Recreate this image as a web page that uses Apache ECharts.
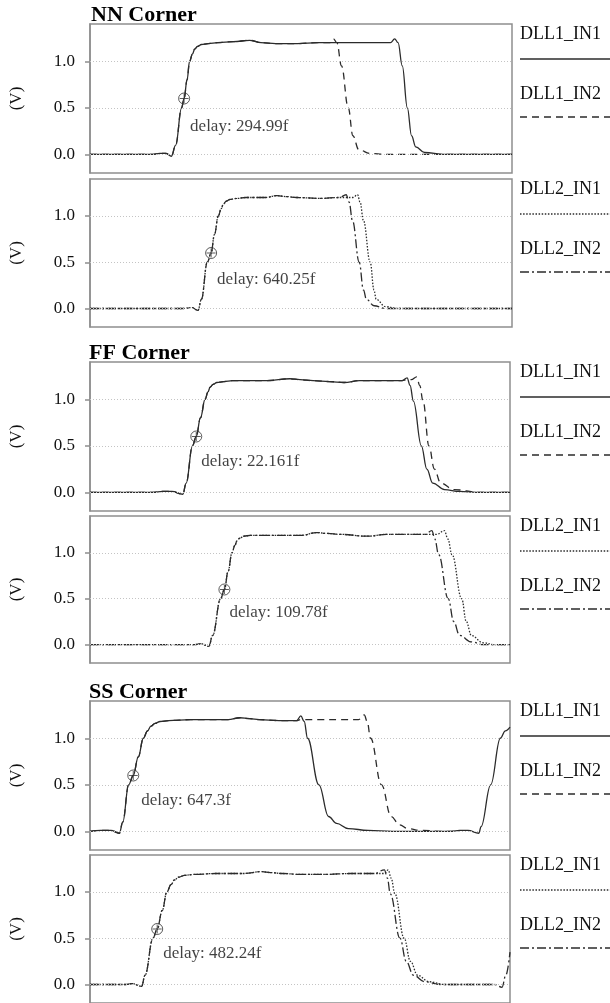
<!DOCTYPE html>
<html>
<head>
<meta charset="utf-8">
<script src="https://cdn.jsdelivr.net/npm/echarts@6/dist/echarts.min.js"></script>
<style>
  html, body { margin: 0; padding: 0; background: #fff; }
  #chart { width: 610px; height: 1003px; }
</style>
</head>
<body>
<div id="chart"></div>
<script>
// 轴刻度 (V)
var yTicks = [0, 0.5, 1.0];
var cornerTitles = ["NN Corner", "FF Corner", "SS Corner"];
var dll1Names = ["DLL1_IN1", "DLL1_IN2"];
var dll2Names = ["DLL2_IN1", "DLL2_IN2"];
var delayLabels = ["294.99f", "640.25f", "22.161f", "109.78f", "647.3f", "482.24f"];

// x: 0-100 across the plot window, y: volts
var nnDll1In1 = [[0,0],[15,0],[16.5,0.01],[18,0.01],[19.3,-0.02],[20.3,0.1],[21.7,0.5],[22.3,0.6],[23,0.8],[23.6,1.0],[24.3,1.08],[24.8,1.13],[25.5,1.16],[26.4,1.18],[28,1.19],[30.3,1.2],[34,1.21],[37.8,1.225],[40.5,1.2],[44,1.19],[49.2,1.19],[54,1.2],[60,1.2],[66,1.2],[71.2,1.2],[72.2,1.24],[73,1.2],[74,0.95],[75.2,0.5],[76.2,0.2],[77.2,0.08],[79.3,0.02],[83.9,0],[100,0]];
var nnDll1In2 = [[0,0],[15,0],[16.5,0.01],[18,0.01],[19.3,-0.02],[20.3,0.1],[21.7,0.5],[22.3,0.6],[23,0.8],[23.6,1.0],[24.3,1.08],[24.8,1.13],[25.5,1.16],[26.4,1.18],[28,1.19],[30.3,1.2],[34,1.21],[37.8,1.225],[40.5,1.2],[44,1.19],[49.2,1.19],[54,1.2],[56.8,1.2],[57.7,1.24],[58.5,1.2],[59.6,0.95],[61.2,0.5],[62.3,0.2],[63.7,0.05],[66.4,0.01],[70,0],[100,0]];
var nnDll2In1 = [[0,0],[22,0],[24.2,0.01],[25.6,-0.02],[26.4,0.1],[27.8,0.5],[28.7,0.6],[29.5,0.8],[30.4,1.0],[31.1,1.08],[31.6,1.13],[32.3,1.16],[33.2,1.18],[34.8,1.19],[37,1.2],[41.6,1.2],[44.3,1.22],[46.5,1.21],[48.9,1.2],[54.4,1.19],[59.1,1.2],[60.7,1.2],[62.3,1.2],[63.4,1.23],[64,1.15],[64.8,0.95],[66.4,0.5],[67.3,0.2],[67.8,0.1],[70,0.02],[72.9,0],[100,0]];
var nnDll2In2 = [[0,0],[22,0],[24.2,0.01],[25.6,-0.02],[26.4,0.1],[27.8,0.5],[28.7,0.6],[29.5,0.8],[30.4,1.0],[31.1,1.08],[31.6,1.13],[32.3,1.16],[33.2,1.18],[34.8,1.19],[37,1.2],[41.6,1.2],[44.3,1.22],[46.5,1.21],[48.9,1.2],[54.4,1.19],[59.1,1.2],[60.7,1.23],[61.4,1.15],[62.2,0.95],[63.8,0.5],[64.8,0.2],[65.5,0.1],[67.3,0.03],[70.1,0],[100,0]];

var ffDll1In1 = [[0,0],[15,0],[17.3,0.01],[19.5,0.01],[22.1,-0.02],[22.9,0.1],[24.4,0.5],[25.3,0.6],[26.3,0.8],[27.4,1.0],[28.1,1.08],[28.6,1.13],[29.3,1.16],[30.2,1.18],[31.8,1.19],[34,1.2],[42.1,1.2],[47.6,1.22],[50,1.21],[53.1,1.2],[57,1.19],[60.5,1.18],[64.2,1.2],[70,1.2],[74.3,1.2],[75.5,1.23],[76.2,1.15],[77,0.98],[78.9,0.5],[80.2,0.25],[81.6,0.1],[84.4,0.03],[88,0.01],[92,0],[100,0]];
var ffDll1In2 = [[0,0],[15,0],[17.3,0.01],[19.5,0.01],[22.1,-0.02],[22.9,0.1],[24.4,0.5],[25.3,0.6],[26.3,0.8],[27.4,1.0],[28.1,1.08],[28.6,1.13],[29.3,1.16],[30.2,1.18],[31.8,1.19],[34,1.2],[42.1,1.2],[47.6,1.22],[50,1.21],[53.1,1.2],[57,1.19],[60.5,1.18],[64.2,1.2],[70,1.2],[74.3,1.2],[75.5,1.21],[76.5,1.21],[77.8,1.24],[78.5,1.15],[79.3,0.98],[80.7,0.5],[82,0.25],[83.5,0.1],[86.6,0.03],[92.7,0],[100,0]];
var ffDll2In1 = [[0,0],[25,0],[26.5,0.01],[28.3,-0.02],[29.2,0.1],[31.1,0.5],[32,0.6],[32.9,0.8],[33.8,1.0],[34.5,1.08],[35,1.13],[35.7,1.16],[36.6,1.18],[38.2,1.19],[41.2,1.19],[50.4,1.19],[54,1.22],[56.5,1.21],[59.6,1.2],[66,1.18],[70.6,1.2],[79.8,1.2],[81.4,1.2],[82.5,1.2],[84.4,1.24],[85.2,1.15],[86.2,0.98],[88.5,0.5],[89.6,0.25],[90.8,0.1],[93.6,0.02],[96.3,0],[100,0]];
var ffDll2In2 = [[0,0],[25,0],[26.5,0.01],[28.3,-0.02],[29.2,0.1],[31.1,0.5],[32,0.6],[32.9,0.8],[33.8,1.0],[34.5,1.08],[35,1.13],[35.7,1.16],[36.6,1.18],[38.2,1.19],[41.2,1.19],[50.4,1.19],[54,1.22],[56.5,1.21],[59.6,1.2],[66,1.18],[70.6,1.2],[79.8,1.2],[81.4,1.24],[82.1,1.15],[83,0.98],[85.3,0.5],[86.6,0.25],[88,0.1],[90.8,0.03],[93.6,0],[100,0]];

var ssDll1In1 = [[0,0],[2.5,0.01],[5,0.01],[7.0,-0.02],[7.8,0.1],[9.2,0.5],[10.3,0.6],[11.5,0.8],[12.7,1.0],[13.7,1.08],[14.5,1.13],[15.5,1.16],[16.7,1.18],[18.7,1.19],[24,1.2],[32.9,1.2],[35.7,1.22],[38,1.21],[40.3,1.2],[45,1.19],[49.2,1.19],[50.2,1.24],[51,1.18],[51.8,1.0],[54.5,0.5],[56.8,0.16],[58.7,0.086],[61.5,0.03],[66.2,0.01],[72,0],[86,0],[88,0.01],[90,0.01],[92.6,-0.02],[93.1,0.05],[95.4,0.5],[97.7,1.0],[98.9,1.08],[100,1.12]];
var ssDll1In2 = [[0,0],[2.5,0.01],[5,0.01],[7.0,-0.02],[7.8,0.1],[9.2,0.5],[10.3,0.6],[11.5,0.8],[12.7,1.0],[13.7,1.08],[14.5,1.13],[15.5,1.16],[16.7,1.18],[18.7,1.19],[24,1.2],[32.9,1.2],[35.7,1.22],[38,1.21],[40.3,1.2],[45,1.19],[49.2,1.19],[50.2,1.2],[63.9,1.2],[65.3,1.25],[66,1.18],[66.8,1.0],[69.4,0.5],[71.7,0.16],[73.7,0.07],[75.7,0.03],[78.8,0.01],[84,0],[88,0]];
var ssDll2In1 = [[0,0],[8.5,0],[10,0.01],[12.3,-0.02],[13.1,0.1],[15,0.5],[16,0.6],[17.2,0.8],[18.3,1.0],[19.3,1.08],[20.1,1.13],[21.1,1.16],[22.5,1.18],[24.8,1.19],[30,1.2],[36.6,1.2],[40.8,1.22],[43,1.21],[45.8,1.2],[50,1.19],[55.9,1.19],[62,1.2],[67.8,1.2],[70.1,1.2],[71,1.24],[71.7,1.15],[72.6,0.98],[74.8,0.5],[76.3,0.25],[78,0.1],[80.7,0.03],[84.5,0],[96,0]];
var ssDll2In2 = [[0,0],[8.5,0],[10,0.01],[12.3,-0.02],[13.1,0.1],[15,0.5],[16,0.6],[17.2,0.8],[18.3,1.0],[19.3,1.08],[20.1,1.13],[21.1,1.16],[22.5,1.18],[24.8,1.19],[30,1.2],[36.6,1.2],[40.8,1.22],[43,1.21],[45.8,1.2],[50,1.19],[55.9,1.19],[62,1.2],[67.8,1.2],[70.1,1.24],[70.8,1.15],[71.5,0.98],[73.8,0.5],[75.3,0.25],[77,0.1],[79.7,0.03],[83.4,0],[95,0],[96.3,0],[98.1,-0.03],[99,0.1],[100,0.35]];

// delay marker points (x, V)
var delayMarks = [[22.3,0.6],[28.7,0.6],[25.3,0.6],[32.0,0.6],[10.3,0.6],[16.0,0.6]];

var FONT = '"Liberation Serif", "DejaVu Serif", serif';
var LINE = "#2b2b2b";
var BORDER = "#8e8e8e";
var TEXT = "#111";

var dashStyle = {
  solid: "solid",
  dashed: [7, 5],
  dotted: [1.5, 1.6],
  dashDot: [9, 3, 2, 3]
};

// panel layout
var panels = [
  { top: 24, height: 149, left: 88, right: 98, title: 0, names: dll1Names, data: [nnDll1In1, nnDll1In2], styles: ["solid", "dashed"], off: [6, 28] },
  { top: 179, height: 148, left: 88, right: 98, names: dll2Names, data: [nnDll2In1, nnDll2In2], styles: ["dotted", "dashDot"], off: [6, 27] },
  { top: 362, height: 149, left: 86, right: 100, title: 1, names: dll1Names, data: [ffDll1In1, ffDll1In2], styles: ["solid", "dashed"], off: [5, 25] },
  { top: 516, height: 147, left: 86, right: 100, names: dll2Names, data: [ffDll2In1, ffDll2In2], styles: ["dotted", "dashDot"], off: [5, 23] },
  { top: 701, height: 149, left: 86, right: 100, title: 2, names: dll1Names, data: [ssDll1In1, ssDll1In2], styles: ["solid", "dashed"], off: [8, 25] },
  { top: 855, height: 149, left: 86, right: 100, names: dll2Names, data: [ssDll2In1, ssDll2In2], styles: ["dotted", "dashDot"], off: [6, 25] }
];

var grid = [], xAxis = [], yAxis = [], series = [], title = [], graphic = [];

panels.forEach(function(p, i) {
  grid.push({
    left: p.left, right: p.right, top: p.top, height: p.height,
    show: true, borderColor: BORDER, borderWidth: 1.5
  });
  xAxis.push({ gridIndex: i, type: "value", min: 0, max: 100, show: false });
  yAxis.push({
    gridIndex: i, type: "value", min: -0.2, max: 1.4, offset: 5,
    name: "(V)", nameLocation: "middle", nameRotate: 90, nameGap: 60,
    nameTextStyle: { fontFamily: FONT, fontSize: 17, color: TEXT },
    axisLine: { show: true, lineStyle: { color: BORDER, width: 1.5 } },
    axisTick: { show: true, length: 5, customValues: yTicks, lineStyle: { color: BORDER, width: 1.5 } },
    axisLabel: {
      customValues: yTicks, margin: 10,
      formatter: function(v) { return v.toFixed(1); },
      fontFamily: FONT, fontSize: 17, color: TEXT
    },
    splitLine: { show: false }
  });

  p.data.forEach(function(d, k) {
    var s = {
      name: p.names[k], type: "line", xAxisIndex: i, yAxisIndex: i,
      data: d, showSymbol: false, smooth: 0.4, smoothMonotone: "x",
      animation: false, silent: true,
      lineStyle: { color: LINE, width: 1.3, type: dashStyle[p.styles[k]] }
    };
    if (k === 0) {
      s.markLine = {
        silent: true, symbol: "none", animation: false,
        label: { show: false },
        lineStyle: { type: [1, 2], color: "#c4c4c4", width: 1 },
        data: yTicks.map(function(v) { return { yAxis: v }; })
      };
    }
    series.push(s);
  });

  // ⊕ marker + delay text
  series.push({
    type: "scatter", xAxisIndex: i, yAxisIndex: i, animation: false, silent: true, z: 5,
    data: [delayMarks[i]], symbol: "circle", symbolSize: 11,
    itemStyle: { color: "rgba(0,0,0,0)", borderColor: "#333", borderWidth: 1 },
    label: {
      show: true, position: "inside", align: "left", verticalAlign: "middle",
      offset: p.off, formatter: "delay: " + delayLabels[i],
      fontFamily: FONT, fontSize: 17, color: TEXT
    }
  });
  series.push({
    type: "scatter", xAxisIndex: i, yAxisIndex: i, animation: false, silent: true, z: 5,
    data: [delayMarks[i]], symbol: "path://M0,5L10,5M5,0L5,10", symbolSize: 9,
    itemStyle: { color: "rgba(0,0,0,0)", borderColor: "#333", borderWidth: 1 }
  });

  if (p.title !== undefined) {
    title.push({
      text: cornerTitles[p.title], left: p.left + 3, top: p.top - 20,
      padding: 0,
      textStyle: { fontFamily: FONT, fontWeight: "bold", fontSize: 22, color: "#000" }
    });
  }

  // legend on the right: name above, line sample below
  p.names.forEach(function(n, k) {
    graphic.push({
      type: "text", left: 520, top: p.top + 1 + k * 60,
      style: { text: n, font: "18px " + FONT, fill: TEXT }
    });
    var ly = p.top + 35 + k * 58;
    var st = dashStyle[p.styles[k]];
    graphic.push({
      type: "line",
      shape: { x1: 520, y1: ly, x2: 610, y2: ly },
      style: { stroke: LINE, lineWidth: 1.3, lineDash: st === "solid" ? null : st }
    });
  });
});

var myChart = echarts.init(document.getElementById("chart"));
myChart.setOption({
  animation: false,
  backgroundColor: "#fff",
  title: title,
  grid: grid,
  xAxis: xAxis,
  yAxis: yAxis,
  series: series,
  graphic: graphic
});
</script>
</body>
</html>
